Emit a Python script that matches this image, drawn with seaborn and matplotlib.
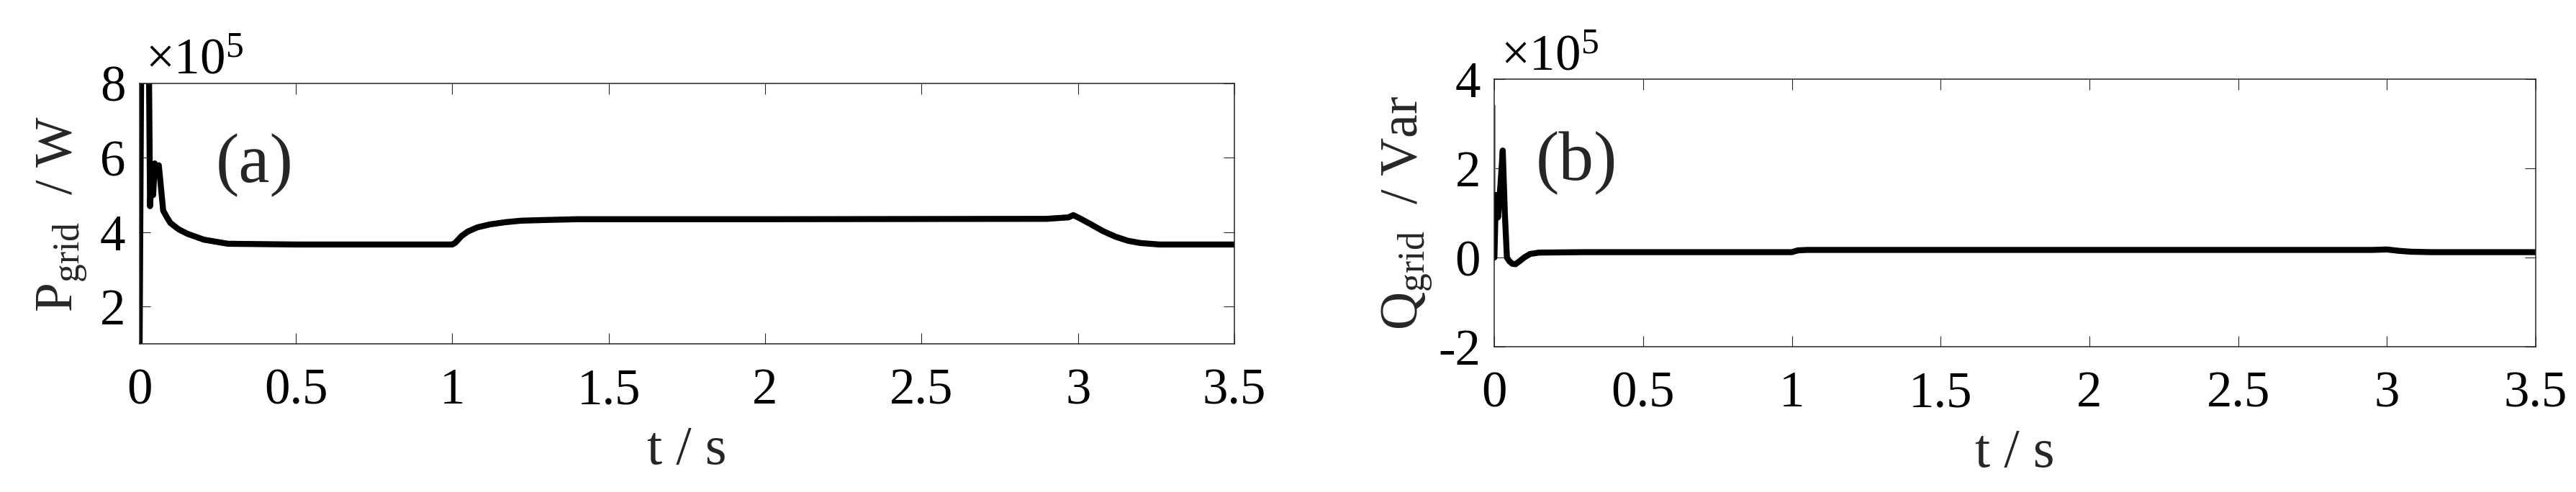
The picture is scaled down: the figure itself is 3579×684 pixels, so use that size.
import matplotlib
matplotlib.use("Agg")
import matplotlib.pyplot as plt
import seaborn as sns
import pandas as pd
from matplotlib.ticker import FixedLocator, FixedFormatter

# ---------------- data (values in units of 1e5) ----------------
p_t = [0.0, 0.006, 0.02, 0.03, 0.034, 0.040, 0.044, 0.049, 0.055, 0.062,
       0.076, 0.088, 0.099, 0.125, 0.153, 0.206, 0.283, 0.5, 1.0,
       1.01, 1.03, 1.05, 1.08, 1.12, 1.17, 1.22, 1.3, 1.4, 2.0, 2.9,
       2.97, 2.985, 3.0, 3.04, 3.08, 3.12, 3.16, 3.2, 3.26, 3.5]
p_val = [0.0, 9.0, 10.0, 9.0, 4.7, 5.6, 5.0, 5.85, 5.7, 5.8,
         4.58, 4.4, 4.25, 4.08, 3.96, 3.80, 3.69, 3.67, 3.67,
         3.72, 3.9, 4.02, 4.13, 4.21, 4.27, 4.31, 4.33, 4.35, 4.35, 4.36,
         4.40, 4.46, 4.40, 4.22, 4.03, 3.88, 3.77, 3.71, 3.67, 3.67]

q_t = [0.0, 0.005, 0.012, 0.02, 0.028, 0.035, 0.042, 0.05, 0.06, 0.071,
       0.085, 0.1, 0.12, 0.15, 0.3, 1.0, 1.02, 1.05, 1.2, 2.0, 2.95,
       3.0, 3.04, 3.08, 3.15, 3.5]
q_val = [0.0, 1.4, 0.9, 1.6, 2.4, 1.0, 0.0, -0.08, -0.14, -0.15,
         -0.08, 0.0, 0.08, 0.11, 0.12, 0.12, 0.16, 0.17, 0.17, 0.17, 0.17,
         0.18, 0.15, 0.13, 0.12, 0.12]
q_spike_t = [0.002, 0.002]
q_spike_val = [1.4, 3.4]

x_ticks = [0, 0.5, 1, 1.5, 2, 2.5, 3, 3.5]
x_tick_labels = ["0", "0.5", "1", "1.5", "2", "2.5", "3", "3.5"]
p_yticks = [2, 4, 6, 8]
p_ytick_labels = ["2", "4", "6", "8"]
q_yticks = [-2, 0, 2, 4]
q_ytick_labels = ["-2", "0", "2", "4"]

# ---------------- style ----------------
sns.set_theme(style="ticks")
plt.rcParams["font.family"] = ["Liberation Serif", "DejaVu Serif"]
plt.rcParams["mathtext.fontset"] = "custom"
plt.rcParams["mathtext.rm"] = "Liberation Serif"
plt.rcParams["mathtext.it"] = "Liberation Serif:italic"
plt.rcParams["mathtext.bf"] = "Liberation Serif:bold"
plt.rcParams["axes.unicode_minus"] = False

fig = plt.figure(figsize=(35.79, 6.84), dpi=100)
ax1 = fig.add_axes([0.05412, 0.30117, 0.42506, 0.52924])
ax2 = fig.add_axes([0.58013, 0.29532, 0.40422, 0.54386])

df_p = pd.DataFrame({"t": p_t, "v": p_val})
df_q = pd.DataFrame({"t": q_t, "v": q_val})
df_qs = pd.DataFrame({"t": q_spike_t, "v": q_spike_val})

sns.lineplot(data=df_p, x="t", y="v", ax=ax1, color="black", linewidth=6,
             estimator=None, sort=False)
sns.lineplot(data=df_qs, x="t", y="v", ax=ax2, color="#8a8a8a", linewidth=1.6,
             estimator=None, sort=False)
sns.lineplot(data=df_q, x="t", y="v", ax=ax2, color="black", linewidth=6,
             estimator=None, sort=False)


def style(ax, yticks, ylabels, ylim, ylabel, ylabel_x):
    ax.set_xlim(0, 3.5)
    ax.set_ylim(*ylim)
    ax.xaxis.set_major_locator(FixedLocator(x_ticks))
    ax.xaxis.set_major_formatter(FixedFormatter(x_tick_labels))
    ax.yaxis.set_major_locator(FixedLocator(yticks))
    ax.yaxis.set_major_formatter(FixedFormatter(ylabels))
    ax.tick_params(direction="in", length=10.8, width=0.8, top=True, right=True,
                   labelsize=51, color="#262626", labelcolor="black")
    ax.tick_params(axis="x", pad=24)
    ax.tick_params(axis="y", pad=14)
    for s in ax.spines.values():
        s.set_visible(True)
        s.set_linewidth(1.1)
        s.set_color("#262626")
    ax.set_xlabel("t / s", fontsize=55, labelpad=11)
    ax.set_ylabel(ylabel, fontsize=53)
    ax.yaxis.set_label_coords(ylabel_x, 0.5)
    ax.grid(False)


style(ax1, p_yticks, p_ytick_labels, (1, 8), r"$\mathrm{P_{grid}}$  / W", -0.0466)
style(ax2, q_yticks, q_ytick_labels, (-2, 4), r"$\mathrm{Q_{grid}}$  / Var", -0.058)

ax1.text(0.0055, 1.0387, r"$\times\mathrm{10^{5}}$", transform=ax1.transAxes,
         fontsize=51, ha="left", va="baseline", color="black")
ax2.text(0.006, 1.035, r"$\times\mathrm{10^{5}}$", transform=ax2.transAxes,
         fontsize=51, ha="left", va="baseline", color="black")

ax1.text(0.1054, 0.685, "(a)", transform=ax1.transAxes, fontsize=70,
         ha="center", va="center")
ax2.text(0.0786, 0.6855, "(b)", transform=ax2.transAxes, fontsize=70,
         ha="center", va="center")

fig.savefig("out.png", dpi=100)
